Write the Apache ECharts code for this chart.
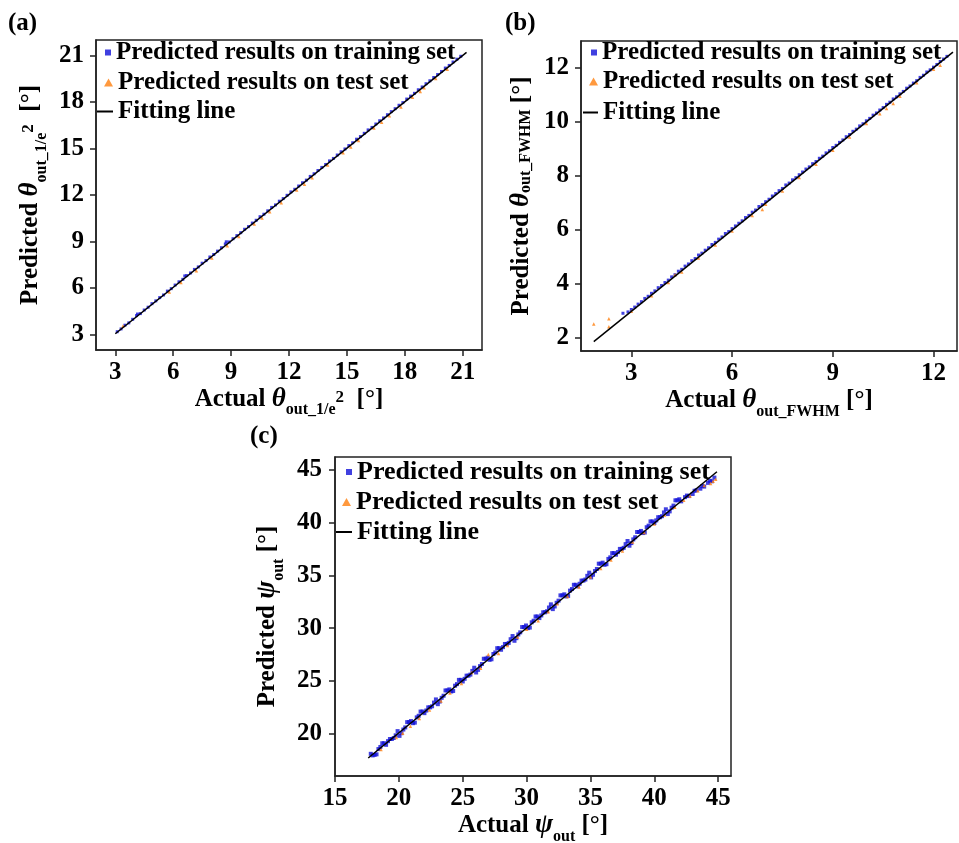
<!DOCTYPE html>
<html><head><meta charset="utf-8">
<script src="https://cdn.jsdelivr.net/npm/echarts@6/dist/echarts.min.js"></script>
<style>html,body{margin:0;padding:0;background:#fff}#c{width:959px;height:843px}</style>
</head><body><div id="c"></div>
<script>
// ---------- DATA ----------
const trainA = [[3.1,3.18],[3.3,3.36],[3.5,3.6],[3.7,3.75],[3.9,3.98],[4.1,4.22],[4.15,4.32],[4.3,4.35],[4.5,4.58],[4.7,4.76],[4.9,4.99],
[5.1,5.17],[5.3,5.38],[5.5,5.55],[5.7,5.8],[5.9,5.96],[6.1,6.19],[6.3,6.4],[6.5,6.56],[6.6,6.78],[6.7,6.8],[6.9,6.97],
[7.1,7.2],[7.3,7.36],[7.5,7.6],[7.7,7.77],[7.9,8.0],[8.1,8.16],[8.3,8.38],[8.5,8.6],[8.7,8.84],[8.75,8.98],[8.9,8.97],
[9.1,9.18],[9.3,9.38],[9.5,9.57],[9.7,9.79],[9.9,9.96],[10.1,10.19],[10.3,10.37],[10.5,10.6],[10.7,10.76],[10.9,10.98],
[11.1,11.2],[11.3,11.36],[11.5,11.6],[11.7,11.77],[11.9,11.98],[12.1,12.2],[12.3,12.37],[12.5,12.58],[12.7,12.79],[12.9,12.96],
[13.1,13.2],[13.3,13.37],[13.5,13.58],[13.7,13.78],[13.9,13.97],[14.1,14.2],[14.3,14.36],[14.5,14.58],[14.7,14.79],[14.9,14.97],
[15.1,15.19],[15.3,15.37],[15.5,15.6],[15.7,15.77],[15.9,15.98],[16.1,16.2],[16.3,16.36],[16.5,16.58],[16.7,16.79],[16.9,16.97],
[17.1,17.18],[17.3,17.38],[17.5,17.57],[17.7,17.79],[17.9,17.96],[18.1,18.19],[18.3,18.38],[18.5,18.56],[18.7,18.79],[18.9,18.97],
[19.1,19.18],[19.3,19.37],[19.5,19.58],[19.7,19.77],[19.9,19.97],[20.1,20.19],[20.3,20.36],[20.5,20.58],[20.7,20.76],[20.9,20.95]];
const testA = [[3.4,3.55],[5.8,5.75],[6.4,6.35],[7.2,7.12],[8.0,7.93],[8.8,8.72],[9.4,9.33],[10.2,10.13],[10.6,10.52],[11.0,10.92],
[11.6,11.5],[12.4,12.33],[12.8,12.7],[13.2,13.12],[14.0,13.93],[14.8,14.72],[15.2,15.1],[15.6,15.52],[16.4,16.33],[16.8,16.7],
[17.2,17.12],[17.8,17.68],[18.4,18.3],[18.8,18.68],[19.0,18.92],[19.6,19.52],[20.2,20.12]];
const fitA = [[3.0,3.05],[21.2,21.2]];

const trainB = [[2.75,2.9],[2.9,2.95],[3.0,3.04],[3.1,3.13],[3.2,3.24],[3.3,3.33],[3.4,3.45],[3.5,3.53],[3.6,3.64],[3.7,3.73],
[3.8,3.85],[3.9,3.93],[4.0,4.04],[4.1,4.13],[4.2,4.25],[4.3,4.33],[4.4,4.46],[4.5,4.53],[4.6,4.65],[4.7,4.73],
[4.8,4.85],[4.9,4.93],[5.0,5.06],[5.1,5.13],[5.2,5.24],[5.3,5.33],[5.4,5.45],[5.5,5.53],[5.6,5.65],[5.7,5.73],
[5.8,5.86],[5.9,5.93],[6.0,6.04],[6.1,6.14],[6.2,6.24],[6.3,6.33],[6.4,6.45],[6.5,6.53],[6.6,6.65],[6.7,6.73],
[6.8,6.86],[6.9,6.93],[7.0,7.04],[7.1,7.13],[7.2,7.25],[7.3,7.34],[7.4,7.45],[7.5,7.53],[7.6,7.66],[7.7,7.73],
[7.8,7.85],[7.9,7.93],[8.0,8.04],[8.1,8.14],[8.2,8.25],[8.3,8.33],[8.4,8.45],[8.5,8.53],[8.6,8.65],[8.7,8.73],
[8.8,8.85],[8.9,8.93],[9.0,9.05],[9.1,9.13],[9.2,9.24],[9.3,9.33],[9.4,9.45],[9.5,9.53],[9.6,9.65],[9.7,9.73],
[9.8,9.85],[9.9,9.93],[10.0,10.04],[10.1,10.13],[10.2,10.25],[10.3,10.33],[10.4,10.44],[10.5,10.53],[10.6,10.65],[10.7,10.73],
[10.8,10.85],[10.9,10.93],[11.0,11.04],[11.1,11.13],[11.2,11.25],[11.3,11.33],[11.4,11.44],[11.5,11.53],[11.6,11.65],[11.7,11.73],
[11.8,11.85],[11.9,11.93],[12.0,12.03],[12.1,12.13],[12.2,12.24],[12.3,12.33],[12.4,12.43]];
const testB = [[1.88,2.5],[2.33,2.7],[2.33,2.4],[3.0,2.97],[3.6,3.55],[4.1,4.04],[4.3,4.33],[4.5,4.43],[5.0,4.95],[5.5,5.43],
[6.0,5.95],[6.6,6.53],[6.9,6.75],[7.0,6.94],[7.5,7.44],[8.0,7.94],[8.5,8.43],[9.0,8.95],[9.5,9.44],[10.0,9.94],
[10.4,10.3],[10.6,10.5],[10.8,10.68],[11.0,10.95],[11.5,11.45],[12.0,11.95],[12.2,12.1]];
const fitB = [[1.88,1.85],[12.58,12.59]];

const trainC = [[17.8,18.1],[18.1,18.0],[18.4,18.55],[18.7,19.1],[19.0,18.95],[19.3,19.5],[19.6,19.6],[19.9,20.25],[20.2,20.05],[20.5,20.6],
[20.8,21.1],[21.1,21.0],[21.4,21.55],[21.7,22.1],[22.0,21.95],[22.3,22.5],[22.6,22.6],[22.9,23.25],[23.2,23.05],[23.5,23.6],
[23.8,24.1],[24.1,24.0],[24.4,24.55],[24.7,25.1],[25.0,24.95],[25.3,25.5],[25.6,25.6],[25.9,26.25],[26.2,26.05],[26.5,26.6],
[26.8,27.1],[27.1,27.0],[27.4,27.55],[27.7,28.1],[28.0,27.95],[28.3,28.5],[28.6,28.6],[28.9,29.25],[29.2,29.05],[29.5,29.6],
[29.8,30.1],[30.1,30.0],[30.4,30.55],[30.7,31.1],[31.0,30.95],[31.3,31.5],[31.6,31.6],[31.9,32.25],[32.2,32.05],[32.5,32.6],
[32.8,33.1],[33.1,33.0],[33.4,33.55],[33.7,34.1],[34.0,33.95],[34.3,34.5],[34.6,34.6],[34.9,35.25],[35.2,35.05],[35.5,35.6],
[35.8,36.1],[36.1,36.0],[36.4,36.55],[36.7,37.1],[37.0,36.95],[37.3,37.5],[37.6,37.6],[37.9,38.25],[38.2,38.05],[38.5,38.6],
[38.8,39.1],[39.1,39.0],[39.4,39.55],[39.7,40.1],[40.0,39.95],[40.3,40.5],[40.6,40.6],[40.9,41.25],[41.2,41.05],[41.5,41.6],
[41.8,42.1],[42.1,42.0],[42.4,42.4],[42.7,42.5],[43.0,42.7],[43.3,43.05],[43.6,43.2],[43.9,43.4],[44.2,43.75],[44.5,43.9],
[18.25,18.05],[18.85,19.1],[19.45,19.5],[20.05,19.8],[20.65,21.1],[21.25,21.05],[21.85,22.1],[22.45,22.5],[23.05,22.8],[23.65,24.1],
[24.25,24.05],[24.85,25.1],[25.45,25.5],[26.05,25.8],[26.65,27.1],[27.25,27.05],[27.85,28.1],[28.45,28.5],[29.05,28.8],[29.65,30.1],
[30.25,30.05],[30.85,31.1],[31.45,31.5],[32.05,31.8],[32.65,33.1],[33.25,33.05],[33.85,34.1],[34.45,34.5],[35.05,34.8],[35.65,36.1],
[36.25,36.05],[36.85,37.1],[37.45,37.5],[38.05,37.8],[38.65,39.1],[39.25,39.05],[39.85,40.1],[40.45,40.5],[41.05,40.8],[41.65,42.1],
[17.95,17.95],[18.55,18.75],[19.15,19.3],[19.75,19.85],[20.35,20.4],[20.95,21.2],[21.55,21.7],[22.15,22.2],[22.75,22.95],[23.35,23.4],
[23.95,24.2],[24.55,24.7],[25.15,25.2],[25.75,25.95],[26.35,26.4],[26.95,27.2],[27.55,27.7],[28.15,28.2],[28.75,28.95],[29.35,29.4],
[29.95,30.25],[30.55,30.7],[31.15,31.2],[31.75,31.95],[32.35,32.4],[32.95,33.2],[33.55,33.7],[34.15,34.2],[34.75,34.95],[35.35,35.4],
[35.95,36.2],[36.55,36.7],[37.15,37.2],[37.75,37.95],[38.35,38.4],[38.95,39.2],[39.55,39.7],[40.15,40.2],[40.75,40.95],[41.35,41.4],
[41.95,42.2],[42.55,42.55],[43.15,43.0],[43.75,43.45],[44.35,43.95],[44.7,44.25]];
const testC = [[18.6,18.5],[19.8,19.65],[20.3,20.05],[20.9,20.7],[21.6,21.45],[22.4,22.25],[23.3,23.1],[24.0,23.85],[24.9,24.75],[25.7,25.8],
[26.4,26.2],[27.0,27.5],[27.8,27.6],[28.5,28.35],[29.3,29.15],[30.0,29.9],[30.9,30.7],[31.7,31.55],[32.4,32.3],[33.2,33.0],
[34.1,33.9],[35.0,34.85],[35.8,35.65],[36.6,36.45],[37.5,37.3],[38.3,38.15],[39.2,39.05],[40.0,39.85],[40.8,40.7],[41.6,41.45],
[42.3,42.1],[42.8,42.5],[43.4,43.0],[43.9,43.5],[44.4,43.7],[44.6,43.9],[44.8,44.1]];
const fitC = [[17.6,17.7],[44.9,44.8]];

const ticksAx = [3,6,9,12,15,18,21];
const ticksAy = [3,6,9,12,15,18,21];
const ticksBx = [3,6,9,12];
const ticksBy = [2,4,6,8,10,12];
const ticksCx = [15,20,25,30,35,40,45];
const ticksCy = [20,25,30,35,40,45];

const nameTrain = 'Predicted results on training set';
const nameTest = 'Predicted results on test set';
const nameFit = 'Fitting line';
const panelLabels = ['(a)','(b)','(c)'];

// ---------- STYLE ----------
const FONT = '"Liberation Serif", "Times New Roman", serif';
const AX = '#222';
const BLUE = '#1010d8';
const ORANGE = '#ff7f0e';

function rich(subPad, supPad) {
  return {
    b: {fontFamily: FONT, fontWeight: 'bold', fontSize: 25, color: '#000', verticalAlign: 'middle'},
    i: {fontFamily: FONT, fontWeight: 'bold', fontStyle: 'italic', fontSize: 27, color: '#000', verticalAlign: 'middle'},
    s: {fontFamily: FONT, fontWeight: 'bold', fontSize: 16, color: '#000', verticalAlign: 'middle', padding: [subPad, 0, 0, 0]},
    p: {fontFamily: FONT, fontWeight: 'bold', fontSize: 17, color: '#000', verticalAlign: 'middle', padding: [0, 0, supPad, 0]}
  };
}

function axis(gridIndex, min, max, ticks, name, nameGap, r, margin, fs) {
  return {
    type: 'value', gridIndex, min, max,
    name, nameLocation: 'middle', nameGap,
    nameTextStyle: {rich: r},
    axisLine: {show: true, onZero: false, lineStyle: {color: AX, width: 1.5}},
    axisTick: {show: true, inside: false, length: 6, customValues: ticks, lineStyle: {color: AX, width: 1.5}},
    axisLabel: {customValues: ticks, margin, fontFamily: FONT, fontWeight: 'bold', fontSize: fs, color: '#000'},
    splitLine: {show: false}
  };
}

function legendRow(left, top, name, icon, w, h, color, fs) {
  return {
    left, top, padding: 0, itemWidth: w, itemHeight: h, selectedMode: false,
    data: [{name, icon, itemStyle: {color, borderWidth: 0}}],
    textStyle: {fontFamily: FONT, fontWeight: 'bold', fontSize: fs, color: '#000'}
  };
}

function scatter(name, data, i, symbol, size, color) {
  return {type: 'scatter', name, data, xAxisIndex: i, yAxisIndex: i, symbol, symbolSize: size,
    itemStyle: {color}, silent: true};
}
function fit(data, i) {
  return {type: 'line', name: nameFit, data, xAxisIndex: i, yAxisIndex: i, symbol: 'none',
    color: '#000', lineStyle: {color: '#000', width: 1.5}, silent: true};
}

const gridBase = {show: true, borderColor: AX, borderWidth: 1.5, containLabel: false, outerBoundsMode: 'none'};

const option = {
  animation: false,
  backgroundColor: '#fff',
  grid: [
    Object.assign({left: 96, top: 40, width: 386, height: 310}, gridBase),
    Object.assign({left: 581, top: 41, width: 376, height: 310}, gridBase),
    Object.assign({left: 335, top: 457, width: 396, height: 319}, gridBase)
  ],
  xAxis: [
    axis(0, 2, 22, ticksAx, '{b|Actual }{i|θ}{s|out_1/e}{p|2}{b|  [°]}', 26, rich(20, 4), 10, 25),
    axis(1, 1.5, 12.7, ticksBx, '{b|Actual }{i|θ}{s|out_FWHM}{b| [°]}', 26, rich(22, 0), 10, 25),
    axis(2, 15, 46, ticksCx, '{b|Actual }{i|ψ}{s|out}{b| [°]}', 30, rich(23, 0), 10, 25)
  ],
  yAxis: [
    axis(0, 2, 22, ticksAy, '{b|Predicted }{i|θ}{s|out_1/e}{p|2}{b|  [°]}', 46, rich(23, 4), 12, 25),
    axis(1, 1.5, 13, ticksBy, '{b|Predicted }{i|θ}{s|out_FWHM}{b| [°]}', 46, rich(8, 0), 12, 25),
    axis(2, 16, 46.2, ticksCy, '{b|Predicted }{i|ψ}{s|out}{b| [°]}', 48, rich(23, 0), 13, 25)
  ],
  legend: [
    legendRow(105, 40, nameTrain, 'rect', 6, 6, BLUE, 25),
    legendRow(104, 70, nameTest, 'triangle', 9, 8, ORANGE, 25),
    legendRow(97, 99, nameFit, 'rect', 16, 2, '#000', 25),
    legendRow(591, 40, nameTrain, 'rect', 6, 6, BLUE, 25),
    legendRow(589, 69, nameTest, 'triangle', 9, 8, ORANGE, 25),
    legendRow(583, 100, nameFit, 'rect', 15, 2, '#000', 25),
    legendRow(346, 459, nameTrain, 'rect', 6, 6, BLUE, 26),
    legendRow(342, 489, nameTest, 'triangle', 9, 8, ORANGE, 26),
    legendRow(336, 519, nameFit, 'rect', 16, 2, '#000', 26)
  ],
  graphic: [
    {type: 'text', left: 8, top: 11, style: {text: panelLabels[0], font: 'bold 25px ' + FONT, fill: '#000'}},
    {type: 'text', left: 505, top: 11, style: {text: panelLabels[1], font: 'bold 25px ' + FONT, fill: '#000'}},
    {type: 'text', left: 250, top: 424, style: {text: panelLabels[2], font: 'bold 25px ' + FONT, fill: '#000'}}
  ],
  series: [
    scatter(nameTrain, trainA, 0, 'rect', 3, BLUE),
    scatter(nameTest, testA, 0, 'triangle', 3.5, ORANGE),
    fit(fitA, 0),
    scatter(nameTrain, trainB, 1, 'rect', 3, BLUE),
    scatter(nameTest, testB, 1, 'triangle', 3.5, ORANGE),
    fit(fitB, 1),
    scatter(nameTrain, trainC, 2, 'rect', 4, BLUE),
    scatter(nameTest, testC, 2, 'triangle', 3.5, ORANGE),
    fit(fitC, 2)
  ]
};

const chart = echarts.init(document.getElementById('c'), null, {renderer: 'canvas'});
chart.setOption(option);
</script></body></html>
